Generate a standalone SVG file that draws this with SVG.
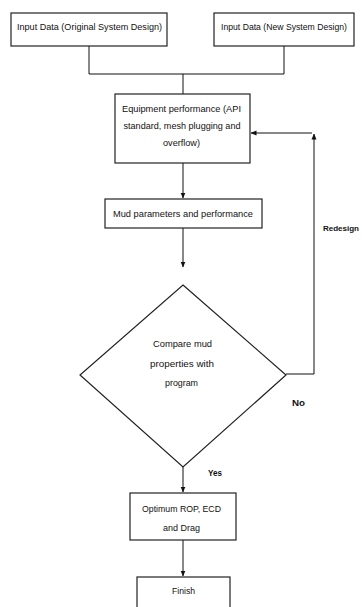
<svg xmlns="http://www.w3.org/2000/svg" width="362" height="607" viewBox="0 0 362 607">
<style>
.box{fill:#fff;stroke:#222;stroke-width:1.2}
.ln{fill:none;stroke:#111;stroke-width:1}
text{font-family:"Liberation Sans",Arial,sans-serif;font-size:9.5px;fill:#111;text-anchor:middle}
.lbl{font-weight:bold;font-size:9.5px}
</style>
<defs>
<marker id="ah" markerWidth="6" markerHeight="6" refX="5.5" refY="3" orient="auto" markerUnits="userSpaceOnUse">
<path d="M0,0.5 L6,3 L0,5.5 Z" fill="#111"/>
</marker>
</defs>
<rect width="362" height="607" fill="#fff"/>
<g id="connectors">
<path class="ln" d="M89,46 V74 H284 V46"/>
<path class="ln" d="M183,74 V94"/>
<path class="ln" d="M183,163 V198" marker-end="url(#ah)"/>
<path class="ln" d="M183,228 V267" marker-end="url(#ah)"/>
<path class="ln" d="M286,374 H314 V134" marker-end="url(#ah)"/>
<path class="ln" d="M312,133 H251" marker-end="url(#ah)"/>
<path class="ln" d="M183,467 V492" marker-end="url(#ah)"/>
<path class="ln" d="M183,540 V576" marker-end="url(#ah)"/>
</g>
<g id="n1">
<rect class="box" x="11" y="13" width="156" height="33"/>
<text x="89.5" y="29.5" textLength="145" lengthAdjust="spacingAndGlyphs">Input Data (Original System Design)</text>
</g>
<g id="n2">
<rect class="box" x="214" y="13" width="140" height="33"/>
<text x="284" y="29.5" textLength="126" lengthAdjust="spacingAndGlyphs">Input Data (New System Design)</text>
</g>
<g id="n3">
<rect class="box" x="115" y="94" width="135" height="69"/>
<text x="181.5" y="111.5" textLength="119" lengthAdjust="spacingAndGlyphs">Equipment performance (API</text>
<text x="182" y="128.5" textLength="117" lengthAdjust="spacingAndGlyphs">standard, mesh plugging and</text>
<text x="181.5" y="146" textLength="37" lengthAdjust="spacingAndGlyphs">overflow)</text>
</g>
<g id="n4">
<rect class="box" x="105" y="199" width="157" height="29"/>
<text x="183" y="216.5" textLength="140" lengthAdjust="spacingAndGlyphs">Mud parameters and performance</text>
</g>
<g id="n5">
<polygon class="box" points="183,285 286,375 183,467 80,375"/>
<text x="182.5" y="346.5" textLength="59" lengthAdjust="spacingAndGlyphs">Compare mud</text>
<text x="182" y="366.5" textLength="64" lengthAdjust="spacingAndGlyphs">properties with</text>
<text x="181.5" y="385.5" textLength="33" lengthAdjust="spacingAndGlyphs">program</text>
</g>
<g id="n6">
<rect class="box" x="130" y="493" width="106" height="47"/>
<text x="181.5" y="511.5" textLength="79" lengthAdjust="spacingAndGlyphs">Optimum ROP, ECD</text>
<text x="181.5" y="530.5" textLength="37" lengthAdjust="spacingAndGlyphs">and Drag</text>
</g>
<g id="n7">
<rect class="box" x="137" y="577" width="93" height="40"/>
<text x="183.5" y="594" textLength="23" lengthAdjust="spacingAndGlyphs">Finish</text>
</g>
<g id="labels">
<text class="lbl" x="323" y="230.5" style="text-anchor:start;font-size:8px">Redesign</text>
<text class="lbl" x="298.5" y="406" textLength="13" lengthAdjust="spacingAndGlyphs">No</text>
<text class="lbl" x="215" y="475.5" textLength="14" lengthAdjust="spacingAndGlyphs">Yes</text>
</g>
</svg>
